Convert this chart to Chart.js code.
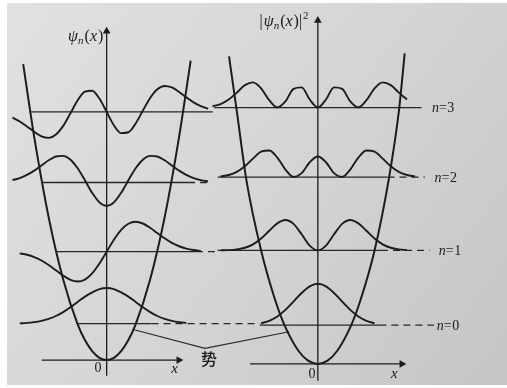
<!DOCTYPE html>
<html><head><meta charset="utf-8">
<script src="https://cdn.jsdelivr.net/npm/chart.js@4.4.0/dist/chart.umd.min.js"></script>
<style>html,body{margin:0;padding:0;background:#fff;}#wrap{width:507px;height:388px;}</style>
</head><body><div id="wrap"><canvas id="c" width="507" height="388"></canvas></div>
<script>
// ---- data (xi = position, E = energy level units) ----
const xi = [-3.5,-3.25,-3,-2.75,-2.5,-2.25,-2,-1.75,-1.5,-1.25,-1,-0.75,-0.5,-0.25,0,0.25,0.5,0.75,1,1.25,1.5,1.75,2,2.25,2.5,2.75,3,3.25,3.5];
const levelsL = [0.51, 1.52, 2.49, 3.48];
const levelsR = [0.53, 1.55, 2.55, 3.5];
// psi_n(x) as drawn (height above its level line)
const psi0 = [0.001,0.003,0.005,0.011,0.022,0.04,0.068,0.108,0.163,0.23,0.305,0.38,0.44,0.485,0.50,0.485,0.44,0.38,0.305,0.23,0.163,0.108,0.068,0.04,0.022,0.011,0.005,0.003,0.001];
const psi1 = [-0.005,-0.011,-0.023,-0.043,-0.076,-0.124,-0.187,-0.261,-0.336,-0.395,-0.419,-0.391,-0.305,-0.167,0,0.167,0.305,0.391,0.419,0.395,0.336,0.261,0.187,0.124,0.076,0.043,0.023,0.011,0.005];
const psi2 = [0.017,0.034,0.062,0.106,0.166,0.239,0.312,0.365,0.374,0.32,0.20,0.031,-0.145,-0.279,-0.329,-0.279,-0.145,0.031,0.20,0.32,0.374,0.365,0.312,0.239,0.166,0.106,0.062,0.034,0.017];
const psi3 = [-0.044,-0.080,-0.134,-0.204,-0.280,-0.343,-0.364,-0.318,-0.196,-0.019,0.163,0.285,0.297,0.187,0,-0.187,-0.297,-0.285,-0.163,0.019,0.196,0.318,0.364,0.343,0.280,0.204,0.134,0.080,0.044];
// |psi_n(x)|^2 as drawn
const prob0 = [0,0,0,0,0.001,0.004,0.010,0.026,0.059,0.118,0.208,0.321,0.439,0.530,0.564,0.530,0.439,0.321,0.208,0.118,0.059,0.026,0.010,0.004,0.001,0,0,0,0];
const prob1 = [0,0,0.001,0.004,0.014,0.036,0.083,0.162,0.268,0.369,0.415,0.362,0.220,0.066,0,0.066,0.220,0.362,0.415,0.369,0.268,0.162,0.083,0.036,0.014,0.004,0.001,0,0];
const prob2 = [0.001,0.003,0.010,0.029,0.072,0.149,0.253,0.347,0.364,0.267,0.104,0.003,0.055,0.203,0.282,0.203,0.055,0.003,0.104,0.267,0.364,0.347,0.253,0.149,0.072,0.029,0.010,0.003,0.001];
const prob3 = [0.005,0.017,0.047,0.109,0.204,0.306,0.344,0.263,0.100,0.001,0.083,0.255,0.275,0.11,0,0.11,0.275,0.255,0.083,0.001,0.100,0.263,0.344,0.306,0.204,0.109,0.047,0.017,0.005];
const psiRange  = [[-3.0,2.75],[-3.0,3.25],[-3.25,3.5],[-3.25,3.5]];
const probRange = [[-1.75,1.75],[-3.0,2.75],[-3.0,3.0],[-3.25,2.75]];
// potential wells
const wellXiL = [-2.88,-2.5,-2,-1.5,-1,-0.75,-0.5,-0.25,0,0.25,0.5,0.75,1,1.5,2,2.5,2.9];
const wellEL  = [4.15,3.13,2.0,1.13,0.5,0.28,0.125,0.031,0,0.031,0.125,0.28,0.5,1.13,2.0,3.13,4.2];
const wellXiR = [-2.74,-2.5,-2.2,-1.75,-1.3,-1.03,-0.6,-0.3,0,0.3,0.6,1.03,1.3,1.75,2.2,2.5,2.68];
const wellER  = [4.2,3.45,2.5,1.55,0.85,0.53,0.18,0.045,0,0.045,0.18,0.53,0.85,1.55,2.55,3.45,4.24];
// level lines: solid and dashed spans
const solidL = [[-1.0,1.55],[-1.73,3.08],[-2.24,2.81],[-2.65,3.66]];
const dashL  = [[1.55,5.29],[3.08,3.8],[2.81,3.6],null];
const solidR = [[-1.79,1.9],[-3.09,1.95],[-3.09,2.15],[-3.2,3.2]];
const dashR  = [[1.9,3.58],[1.95,3.45],[2.15,3.3],null];
const levelNames = ['n=0','n=1','n=2','n=3'];
const levelLabelXi = [3.67,3.73,3.6,3.52];
// axes (ends) and pointer lines to the word for potential
const axisL = {v:[-0.22,4.61], h:[-2.24,2.49]};
const axisR = {v:[-0.23,4.69], h:[-2.09,2.59]};
const ptrXi = [0.95,3.39,6.3];
const ptrE  = [0.425,0.164,0.397];

// ---- build datasets ----
const INK = '#1c1c1c';
const ds = [];
function curve(vals, range, level, xa, ya){
  const d = [];
  xi.forEach((x,i)=>{ if(x>=range[0]-1e-9 && x<=range[1]+1e-9) d.push({x:x, y:level+vals[i]}); });
  ds.push({data:d, xAxisID:xa, yAxisID:ya, borderColor:INK, borderWidth:1.9, pointRadius:0, cubicInterpolationMode:'monotone', showLine:true});
}
[psi0,psi1,psi2,psi3].forEach((v,n)=>curve(v, psiRange[n], levelsL[n], 'xL','yL'));
[prob0,prob1,prob2,prob3].forEach((v,n)=>curve(v, probRange[n], levelsR[n], 'xR','yR'));
function well(xs, es, xa, ya){
  ds.push({data:xs.map((x,i)=>({x:x,y:es[i]})), xAxisID:xa, yAxisID:ya, borderColor:INK, borderWidth:2, pointRadius:0, cubicInterpolationMode:'monotone', showLine:true});
}
well(wellXiL, wellEL, 'xL','yL');
well(wellXiR, wellER, 'xR','yR');
function seg(span, level, dashed, xa, ya){
  if(!span) return;
  ds.push({data:[{x:span[0],y:level},{x:span[1],y:level}], xAxisID:xa, yAxisID:ya, borderColor:'#262626', borderWidth:1.3, borderDash: dashed?[7,5]:[], pointRadius:0, showLine:true});
}
for(let n=0;n<4;n++){
  seg(solidL[n], levelsL[n], false, 'xL','yL');
  seg(dashL[n], levelsL[n], true, 'xL','yL');
  seg(solidR[n], levelsR[n], false, 'xR','yR');
  seg(dashR[n], levelsR[n], true, 'xR','yR');
}
function axis(ax, xa, ya){
  ds.push({data:[{x:0,y:ax.v[0]},{x:0,y:ax.v[1]}], xAxisID:xa, yAxisID:ya, borderColor:INK, borderWidth:1.3, showLine:true,
    pointRadius:[0,4.5], pointStyle:'triangle', rotation:0, pointBackgroundColor:INK, pointBorderColor:INK, pointBorderWidth:0});
  ds.push({data:[{x:ax.h[0],y:0},{x:ax.h[1],y:0}], xAxisID:xa, yAxisID:ya, borderColor:INK, borderWidth:1.3, showLine:true,
    pointRadius:[0,4.5], pointStyle:'triangle', rotation:90, pointBackgroundColor:INK, pointBorderColor:INK, pointBorderWidth:0});
}
axis(axisL,'xL','yL');
axis(axisR,'xR','yR');
ds.push({data:ptrXi.map((x,i)=>({x:x,y:ptrE[i]})), xAxisID:'xL', yAxisID:'yL', borderColor:'#2a2a2a', borderWidth:1.2, pointRadius:0, showLine:true, tension:0});

// ---- background and text plugin ----
const SERIF = '"Liberation Serif","DejaVu Serif",serif';
function rich(ctx, x, y, parts){
  let cx = x;
  parts.forEach(p=>{
    ctx.font = p[1];
    ctx.fillText(p[0], cx, y + (p[2]||0));
    cx += ctx.measureText(p[0]).width + (p[3]||0);
  });
}
const deco = {
  id:'deco',
  beforeDraw(chart){
    const ctx = chart.ctx;
    ctx.save();
    ctx.fillStyle = '#ffffff';
    ctx.fillRect(0,0,chart.width,chart.height);
    const g = ctx.createLinearGradient(7,3,507,385);
    g.addColorStop(0,'#e1e1e1');
    g.addColorStop(0.5,'#d4d5d6');
    g.addColorStop(1,'#c4c5c7');
    ctx.fillStyle = g;
    ctx.fillRect(7,3,500,382);
    ctx.restore();
  },
  afterDatasetsDraw(chart){
    const ctx = chart.ctx, s = chart.scales;
    const pL = (x,y)=>[s.xL.getPixelForValue(x), s.yL.getPixelForValue(y)];
    const pR = (x,y)=>[s.xR.getPixelForValue(x), s.yR.getPixelForValue(y)];
    ctx.save();
    ctx.fillStyle = '#1a1a1a';
    ctx.textBaseline = 'alphabetic';
    ctx.textAlign = 'left';
    // psi_n(x)
    let p = pL(-1.33, 4.48);
    rich(ctx, p[0], p[1], [['ψ','italic 16px '+SERIF,0,0],['n','italic 11px '+SERIF,3,1],['(','16px '+SERIF],['x','italic 16px '+SERIF,0,1],[')','16px '+SERIF]]);
    // |psi_n(x)|^2
    p = pR(-1.8, 4.62);
    rich(ctx, p[0], p[1], [['|','16px '+SERIF,0,1],['ψ','italic 16px '+SERIF],['n','italic 11px '+SERIF,3,1],['(','16px '+SERIF],['x','italic 16px '+SERIF,0,1],[')','16px '+SERIF],['|','16px '+SERIF,0,1],['2','11px '+SERIF,-7]]);
    // origin and x
    ctx.textAlign = 'center'; ctx.textBaseline = 'middle';
    ctx.font = '14px '+SERIF;
    p = pL(-0.3,-0.12); ctx.fillText('0', p[0], p[1]);
    p = pR(-0.18,-0.14); ctx.fillText('0', p[0], p[1]);
    ctx.font = 'italic 15px '+SERIF;
    p = pL(2.34,-0.12); ctx.fillText('x', p[0], p[1]);
    p = pR(2.36,-0.14); ctx.fillText('x', p[0], p[1]);
    // level labels
    ctx.textAlign = 'left';
    for(let n=0;n<4;n++){
      p = pR(levelLabelXi[n], levelsR[n]);
      rich(ctx, p[0], p[1]+1, [['n','italic 14px '+SERIF],['=','14px '+SERIF,0,0.5],[levelNames[n].slice(2),'14px '+SERIF]]);
    }
    // potential label
    ctx.textAlign = 'center';
    ctx.font = '500 16px "Noto Sans CJK SC"';
    p = pL(3.53, 0.01); ctx.fillText('势', p[0], p[1]);
    ctx.restore();
  }
};

new Chart(document.getElementById('c'), {
  type:'scatter',
  data:{datasets:ds},
  options:{
    responsive:false, animation:false, devicePixelRatio:1, events:[],
    layout:{padding:0},
    plugins:{legend:{display:false}, tooltip:{enabled:false}},
    scales:{
      xL:{type:'linear', axis:'x', min:-3.5254, max:13.661, display:false},
      yL:{type:'linear', axis:'y', min:-0.3288, max:4.9863, display:false},
      xR:{type:'linear', axis:'x', min:-9.6667, max:5.697, display:false},
      yR:{type:'linear', axis:'y', min:-0.2667, max:4.9067, display:false}
    }
  },
  plugins:[deco]
});
</script></body></html>
